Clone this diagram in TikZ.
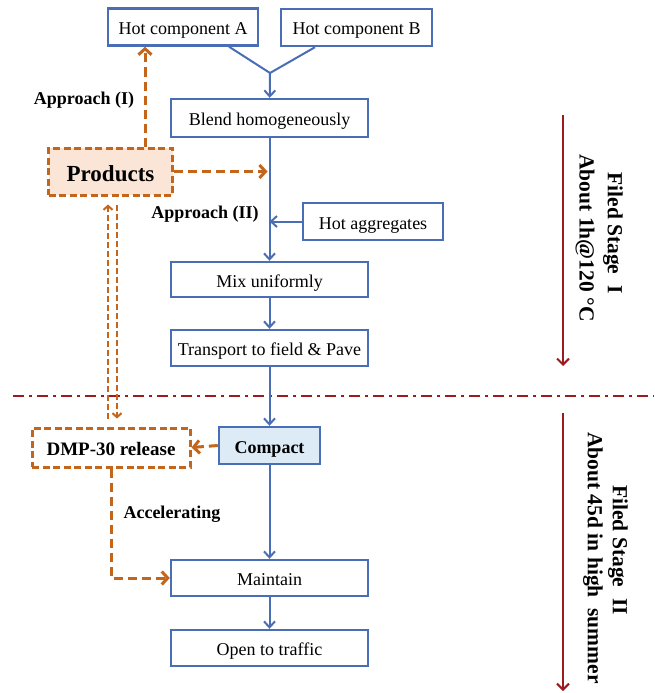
\documentclass[tikz,border=0pt]{standalone}
\usepackage{fontspec}
\setmainfont{Liberation Serif}
\usetikzlibrary{arrows.meta}
\definecolor{flowblue}{HTML}{4A6EB5}
\definecolor{prodorange}{HTML}{C4651C}
\definecolor{stagered}{HTML}{9B1B1E}
\definecolor{prodfill}{HTML}{FBE5D6}
\definecolor{compfill}{HTML}{DDEBF6}

\begin{document}
\begin{tikzpicture}[x=1pt, y=-1pt,
    stepbox/.style={draw=flowblue, line width=2.4pt, fill=white, inner sep=0pt,
      text height=15pt, text depth=0pt,
      minimum width=197pt, minimum height=36pt, font=\fontsize{18}{20}\selectfont},
    dashbox/.style={draw=prodorange, line width=3pt, dash pattern=on 7pt off 3.5pt,
      inner sep=0pt, font=\bfseries},
    flow/.style={draw=flowblue, line width=2pt, -{Straight Barb[length=6pt,width=11pt,line width=2pt]}},
    link/.style={draw=prodorange, line width=3pt, dash pattern=on 9pt off 5pt,
      -{Straight Barb[length=6pt,width=13pt]}},
    thinlink/.style={draw=prodorange, line width=2pt, dash pattern=on 6pt off 3pt,
      -{Straight Barb[length=4pt,width=9pt]}, shorten <=8pt, shorten >=8pt},
    lbl/.style={font=\fontsize{18}{20}\selectfont\bfseries},
    stage/.style={font=\fontsize{21.5}{24}\selectfont\bfseries, rotate=-90},
    timeline/.style={draw=stagered, line width=2pt, -{Straight Barb[length=6pt,width=12pt]}}]
    \useasboundingbox (0,0) rectangle (654,693);

    % Stage separator
    \draw[stagered, line width=2pt, dash pattern=on 11pt off 5pt on 3pt off 5pt] (13,396) -- (654,396);

    % Main flow
    \node[stepbox, minimum width=150pt, minimum height=37pt] (hotA) at (183,27) {Hot component A};
    \node[stepbox, minimum width=151pt, minimum height=37pt] (hotB) at (356.5,27.5) {Hot component B};
    \node[stepbox, minimum height=38pt] (blend) at (269.5,118) {Blend homogeneously};
    \node[stepbox, minimum width=140pt, minimum height=37pt] (agg) at (373,221.5) {Hot aggregates};
    \node[stepbox, minimum height=35pt] (mix) at (269.5,279.5) {Mix uniformly};
    \node[stepbox] (pave) at (269.5,348) {Transport to field \& Pave};
    \node[stepbox, fill=compfill, minimum width=101pt, minimum height=37pt, font=\fontsize{18}{20}\selectfont\bfseries] (compact) at (269.5,445.5) {Compact};
    \node[stepbox] (maintain) at (269.5,578) {Maintain};
    \node[stepbox] (traffic) at (269.5,648) {Open to traffic};

    \coordinate (merge) at (270,73);
    \draw[flowblue, line width=2pt] ([xshift=46pt]hotA.south) -- (merge) -- ([xshift=-41.5pt]hotB.south);
    \draw[flow] (merge) -- (blend);
    \draw[flow] (blend) -- (mix);
    \draw[flow] (agg.west) -- (agg.west -| blend.south);
    \draw[flow] (mix) -- (pave);
    \draw[flow] (pave) -- (compact);
    \draw[flow] (compact) -- (maintain);
    \draw[flow] (maintain) -- (traffic);

    % Products and DMP-30
    \node[dashbox, fill=prodfill, minimum width=124pt, minimum height=47pt, text height=19pt, text depth=0pt, font=\fontsize{23}{26}\selectfont\bfseries] (products) at (110.5,171.5) {Products};
    \node[dashbox, fill=white, minimum width=158pt, minimum height=39pt, text height=16pt, text depth=0pt, font=\fontsize{19}{22}\selectfont\bfseries] (dmp) at (111,447.5) {DMP-30 release};

    \draw[link] ([xshift=34.5pt]products.north) -- ([xshift=34.5pt]products.north |- hotA.south);
    \draw[link] (products.east) -- ([xshift=-2pt]products.east -| blend.south);
    \draw[link] (compact.west) -- (dmp.east);
    \draw[link] (dmp.south) |- (maintain.west);
    \draw[thinlink] ([xshift=-3pt]dmp.north) -- ([xshift=-3pt]dmp.north |- products.south);
    \draw[thinlink] ([xshift=6.5pt]products.south) -- ([xshift=6.5pt]products.south |- dmp.north);

    % Labels
    \node[lbl] (appI) at (84,100) {Approach (I)};
    \node[lbl] (appII) at (205,214) {Approach (II)};
    \node[lbl] (accel) at (172,514) {Accelerating};

    % Field stages
    \coordinate (s1top) at (563,115);
    \coordinate (s1end) at (563,366);
    \coordinate (s2top) at (563,413);
    \coordinate (s2end) at (563,691);
    \draw[timeline] (s1top) -- (s1end);
    \draw[timeline] (s2top) -- (s2end);
    \node[stage] (stageI) at (613,233) {Filed Stage\ \ I};
    \node[stage] (timeI) at (585,238) {About 1h@120 °C};
    \node[stage] (stageII) at (618,550) {Filed Stage\ \ II};
    \node[stage] (timeII) at (593,558) {About 45d in high\ \ summer};
  \end{tikzpicture}
\end{document}
